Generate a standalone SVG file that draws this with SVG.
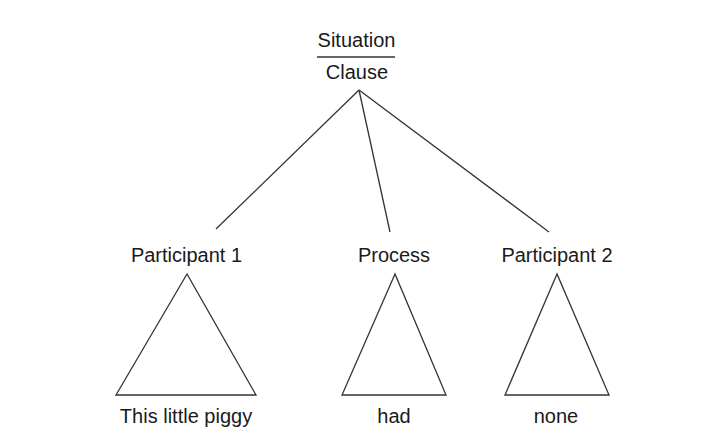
<svg xmlns="http://www.w3.org/2000/svg" width="702" height="448" viewBox="0 0 702 448">
<style>
text{font-family:"Liberation Sans",Arial,sans-serif;font-size:20px;fill:#1a1a1a;text-anchor:middle}
.ln{stroke:#333;stroke-width:1.3;fill:none}
</style>
<rect width="702" height="448" fill="#fff"/>
<g id="root">
<text x="356.5" y="47">Situation</text>
<line class="ln" x1="317" y1="57" x2="395" y2="57"/>
<text x="357" y="79">Clause</text>
</g>
<g id="connectors">
<line class="ln" x1="359" y1="90" x2="216" y2="229"/>
<line class="ln" x1="359" y1="90" x2="390" y2="232"/>
<line class="ln" x1="359" y1="90" x2="549" y2="232"/>
</g>
<g id="participant1">
<text x="186.5" y="262">Participant 1</text>
<polygon class="ln" points="187,274 116,395 256,395"/>
<text x="186" y="423">This little piggy</text>
</g>
<g id="process">
<text x="394" y="262">Process</text>
<polygon class="ln" points="395,274 342,395 446,395"/>
<text x="394" y="423">had</text>
</g>
<g id="participant2">
<text x="557" y="262">Participant 2</text>
<polygon class="ln" points="557,274 505,395 609,395"/>
<text x="556" y="423">none</text>
</g>
</svg>
